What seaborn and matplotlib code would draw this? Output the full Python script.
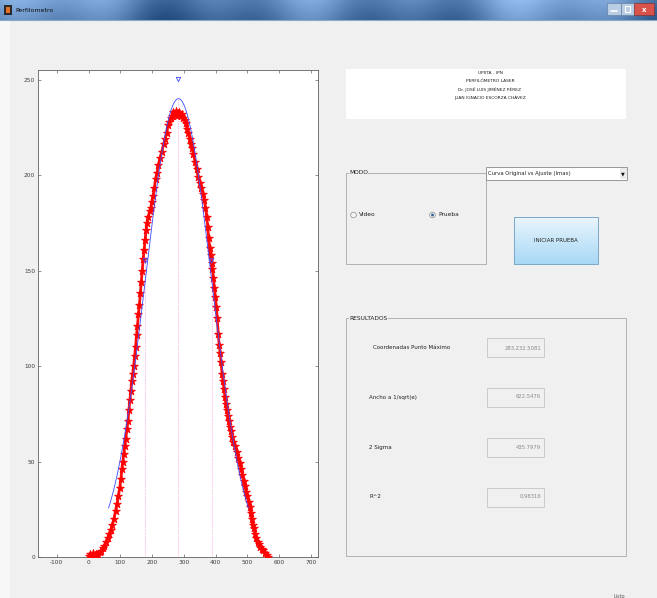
import numpy as np
import pandas as pd
import matplotlib
matplotlib.use("Agg")
import matplotlib.pyplot as plt
import seaborn as sns
from matplotlib.patches import Rectangle, Circle

# ---------------- data ----------------
RED_X = [0, 5, 10, 15, 20, 25, 30, 35, 40, 45, 50, 55, 60, 65, 70, 75, 80, 85, 90, 94,
         98, 102, 105, 108, 111, 114, 117, 121, 124, 127, 130, 133, 136, 139, 142, 145,
         148, 151, 154, 157, 160, 163, 166, 169, 172, 175, 178, 181, 184, 188, 192, 196,
         199, 203, 207, 211, 215, 220, 225, 230, 236, 241, 246, 250, 254, 258, 262, 266,
         270, 274, 278, 282, 286, 290, 294, 298, 302, 306, 310, 314, 318, 322, 326, 330,
         335, 340, 345, 350, 355, 360, 364, 368, 372, 375, 378, 381, 384, 387, 390, 393,
         396, 399, 402, 405, 408, 411, 414, 417, 420, 423, 426, 429, 432, 435, 438, 441,
         444, 447, 451, 456, 461, 466, 471, 476, 480, 484, 488, 492, 496, 500, 504, 507,
         510, 513, 516, 520, 524, 528, 532, 536, 540, 545, 550, 555, 560, 565]
RED_Y = [0.5, 1.5, 0.5, 2, 0.8, 1.5, 1, 2.5, 3, 4.5, 6, 8, 10, 12, 14, 17, 20, 24, 28, 32,
         36, 41, 46, 50, 54, 58, 62, 67, 71, 77, 82, 87, 92, 96, 100, 105,
         110, 116, 121, 127, 132, 138, 144, 150, 156, 161, 166, 171, 175, 178, 181, 183,
         186, 189, 193, 198, 201, 205, 209, 212, 216, 219, 222, 226, 228, 230, 231, 233,
         232, 233.5, 231, 232.5, 233, 231, 232, 230, 229, 227, 224, 222, 219, 216, 214, 211,
         207, 203, 199, 196, 193, 190, 187, 183, 178, 173, 167, 162, 158, 154, 151, 146,
         141, 136, 131, 125, 117, 111, 107, 102, 96, 92, 88, 84, 80, 77, 74, 71,
         68, 66, 63, 60, 58, 55, 52, 49, 46, 43, 40, 37, 34, 32, 29, 26,
         23, 20, 17, 15, 12, 10, 8, 7, 5, 4, 3.5, 2, 1, 0]

# Gaussian fit parameters (blue curve) as shown
FIT_AMP = 240.0
FIT_MU = 283.0
FIT_SIGMA = 104.0
FIT_RANGE = (63, 503)

# markers / guide lines
PEAK_MARK = (283, 250)
SIDE_MARKS_X = [179, 387]
SIDE_MARKS_Y = [155, 155]
VLINES_X = [179, 283, 387]
VLINES_TOP = [155, 240, 155]

X_TICKS = [-100, 0, 100, 200, 300, 400, 500, 600, 700]
Y_TICKS = [0, 50, 100, 150, 200, 250]

HEADER_LINES = ["UPIITA - IPN", "PERFILÓMETRO LASER",
                "Dr. JOSÉ LUIS JIMÉNEZ PÉREZ", "JUAN IGNACIO ESCORZA CHÁVEZ"]
RESULT_LABELS = ["Coordenadas Punto Máximo", "Ancho a 1/sqrt(e)", "2 Sigma", "R^2"]
RESULT_VALUES = ["283,232.5081", "622.5476", "435.7979", "0.98316"]

# ---------------- figure ----------------
sns.set_style("ticks")
plt.rcParams['font.family'] = ['DejaVu Sans']
plt.rcParams['axes.unicode_minus'] = False

W, H = 657, 598
fig = plt.figure(figsize=(W / 100, H / 100), dpi=100)
fig.patch.set_facecolor("#f0f0f0")

gui = fig.add_axes([0, 0, 1, 1])
gui.set_xlim(0, W)
gui.set_ylim(H, 0)
gui.set_axis_off()

# lighter left strip
gui.add_patch(Rectangle((0, 20), 10, H - 20, facecolor="#f7f7f7", edgecolor="none"))

# title bar (Windows 7 style)
ncol = 300
t = np.linspace(0, 1, ncol)
base = np.array([0.30, 0.46, 0.66])
var = (0.09 * np.sin(t * 17) + 0.06 * np.sin(t * 41 + 1) + 0.05 * np.sin(t * 7 + 2))
rows = np.linspace(0, 1, 20)
img = np.zeros((20, ncol, 3))
for i, r in enumerate(rows):
    shade = 0.10 * (1 - r)
    img[i] = np.clip(base[None, :] + var[:, None] + shade, 0, 1)
gui.imshow(img, extent=(0, W, 20, 0), aspect="auto", zorder=1)
gui.plot([0, W], [20, 20], color="#8aa8c8", lw=0.8, zorder=2)
gui.add_patch(Rectangle((4, 5), 8, 10, facecolor="#2a2a2a", edgecolor="none", zorder=3))
gui.add_patch(Rectangle((6, 7), 4, 6, facecolor="#e0702a", edgecolor="none", zorder=4))
gui.text(15, 10.5, "Perfilometro", fontsize=4.5, color="#101010", va="center", ha="left", zorder=4)
gui.add_patch(Rectangle((607, 3), 14, 12, facecolor="#b8cde3", edgecolor="#5a7a9a", lw=0.4, zorder=3))
gui.add_patch(Rectangle((621, 3), 13, 12, facecolor="#b8cde3", edgecolor="#5a7a9a", lw=0.4, zorder=3))
gui.add_patch(Rectangle((634, 3), 20, 12, facecolor="#d9534a", edgecolor="#7a2a2a", lw=0.4, zorder=3))
gui.plot([611, 617], [11, 11], color="#ffffff", lw=1.2, zorder=4)
gui.add_patch(Rectangle((625, 6), 5, 6, facecolor="none", edgecolor="#ffffff", lw=0.8, zorder=4))
gui.text(644, 9.5, "x", fontsize=5, color="white", ha="center", va="center", weight="bold", zorder=4)

# header box
gui.add_patch(Rectangle((346, 69), 280, 50, facecolor="white", edgecolor="none"))
for i, line in enumerate(HEADER_LINES):
    gui.text(490, 72.5 + i * 8.4, line, fontsize=3.2, ha="center", va="center", color="#202020")

# MODO frame
gui.add_patch(Rectangle((346, 173), 140, 91, facecolor="none", edgecolor="#a8a8a8", lw=0.6))
gui.text(349, 173, "MODO", fontsize=4.2, ha="left", va="center", color="#202020",
         bbox=dict(facecolor="#f0f0f0", edgecolor="none", pad=0.3))
gui.add_patch(Circle((353.5, 215), 2.8, facecolor="#f4f4f4", edgecolor="#8a8a8a", lw=0.5))
gui.text(359, 215, "Video", fontsize=4.2, ha="left", va="center", color="#202020")
gui.add_patch(Circle((432.5, 215), 2.8, facecolor="#f4f4f4", edgecolor="#8a8a8a", lw=0.5))
gui.add_patch(Circle((432.5, 215), 1.4, facecolor="#2d5f9a", edgecolor="none"))
gui.text(438, 215, "Prueba", fontsize=4.2, ha="left", va="center", color="#202020")

# popup menu
gui.add_patch(Rectangle((486, 167), 141, 12.5, facecolor="white", edgecolor="#8a8a8a", lw=0.6))
gui.text(488, 173.3, "Curva Original vs Ajuste (Imax)", fontsize=3.8, ha="left", va="center", color="#202020")
gui.add_patch(Rectangle((620, 168), 6.5, 10.5, facecolor="#ececec", edgecolor="none"))
gui.text(623.3, 173.5, "▼", fontsize=3.5, ha="center", va="center", color="#111111")

# button
bt = np.linspace(0, 1, 50)[:, None, None]
top = np.array([0.92, 0.96, 0.99])
mid = np.array([0.80, 0.91, 0.98])
bot = np.array([0.66, 0.85, 0.96])
bimg = np.where(bt < 0.45, top + (mid - top) * (bt / 0.45), mid + (bot - mid) * ((bt - 0.45) / 0.55))
bimg = np.repeat(bimg, 10, axis=1)
gui.imshow(bimg, extent=(514, 598, 264, 217), aspect="auto", zorder=2)
gui.add_patch(Rectangle((514, 217), 84, 47, facecolor="none", edgecolor="#7aa7c9", lw=0.7, zorder=3))
gui.text(556, 240.5, "INICIAR PRUEBA", fontsize=4.0, ha="center", va="center", color="#202020", zorder=4)

# RESULTADOS frame
gui.add_patch(Rectangle((346, 318), 280, 238, facecolor="none", edgecolor="#a8a8a8", lw=0.6))
gui.text(349, 318, "RESULTADOS", fontsize=4.2, ha="left", va="center", color="#202020",
         bbox=dict(facecolor="#f0f0f0", edgecolor="none", pad=0.3))
row_y = [347.8, 397.0, 447.3, 497.0]
lab_x = [373, 369, 369, 369]
for lbl, val, yy, xx in zip(RESULT_LABELS, RESULT_VALUES, row_y, lab_x):
    gui.text(xx, yy, lbl, fontsize=4.0, ha="left", va="center", color="#202020")
    gui.add_patch(Rectangle((487, yy - 9.5), 56.5, 19, facecolor="#f0f0f0", edgecolor="#c4c4c4", lw=0.6))
    gui.text(541, yy, val, fontsize=3.8, ha="right", va="center", color="#8a8a8a")

gui.text(614, 596, "Listo", fontsize=3.5, ha="left", va="center", color="#505050")

# ---------------- plot axes ----------------
ax = fig.add_axes([38 / W, (H - 557) / H, (318 - 38) / W, (557 - 70) / H])
ax.set_facecolor("white")

red_df = pd.DataFrame({"x": RED_X, "y": RED_Y})
sns.lineplot(data=red_df, x="x", y="y", ax=ax, color="#ff1010", lw=2.0, sort=False,
             estimator=None, zorder=3)
sns.scatterplot(data=red_df, x="x", y="y", ax=ax, marker="*", s=34, color="#ff0000",
                edgecolor="#ff0000", linewidth=0.6, zorder=4)

fx = np.arange(FIT_RANGE[0], FIT_RANGE[1] + 1, 1.0)
fy = FIT_AMP * np.exp(-(fx - FIT_MU) ** 2 / (2 * FIT_SIGMA ** 2))
sns.lineplot(x=fx, y=fy, ax=ax, color="#3b4cff", lw=0.6, zorder=5)

for vx, vt in zip(VLINES_X, VLINES_TOP):
    ax.plot([vx, vx], [0, vt], color="#ff7fd0", lw=0.5, ls=(0, (1, 1.5)), zorder=2)

sns.scatterplot(x=[PEAK_MARK[0]], y=[PEAK_MARK[1]], ax=ax, marker="v", s=10,
                facecolor="none", edgecolor="#3b4cff", linewidth=0.6, zorder=6)
sns.scatterplot(x=SIDE_MARKS_X, y=SIDE_MARKS_Y, ax=ax, marker="v", s=10,
                facecolor="none", edgecolor="#3b4cff", linewidth=0.6, zorder=6)

ax.set_xlim(-159, 722)
ax.set_ylim(0, 255)
ax.set_xticks(X_TICKS)
ax.set_yticks(Y_TICKS)
ax.set_xlabel("")
ax.set_ylabel("")
ax.tick_params(direction="in", length=2.5, width=0.4, labelsize=4.2, colors="#404040",
               top=True, right=True, pad=2)
for s in ax.spines.values():
    s.set_visible(True)
    s.set_color("#606060")
    s.set_linewidth(0.6)

fig.savefig("out.png", dpi=100, facecolor=fig.get_facecolor())
